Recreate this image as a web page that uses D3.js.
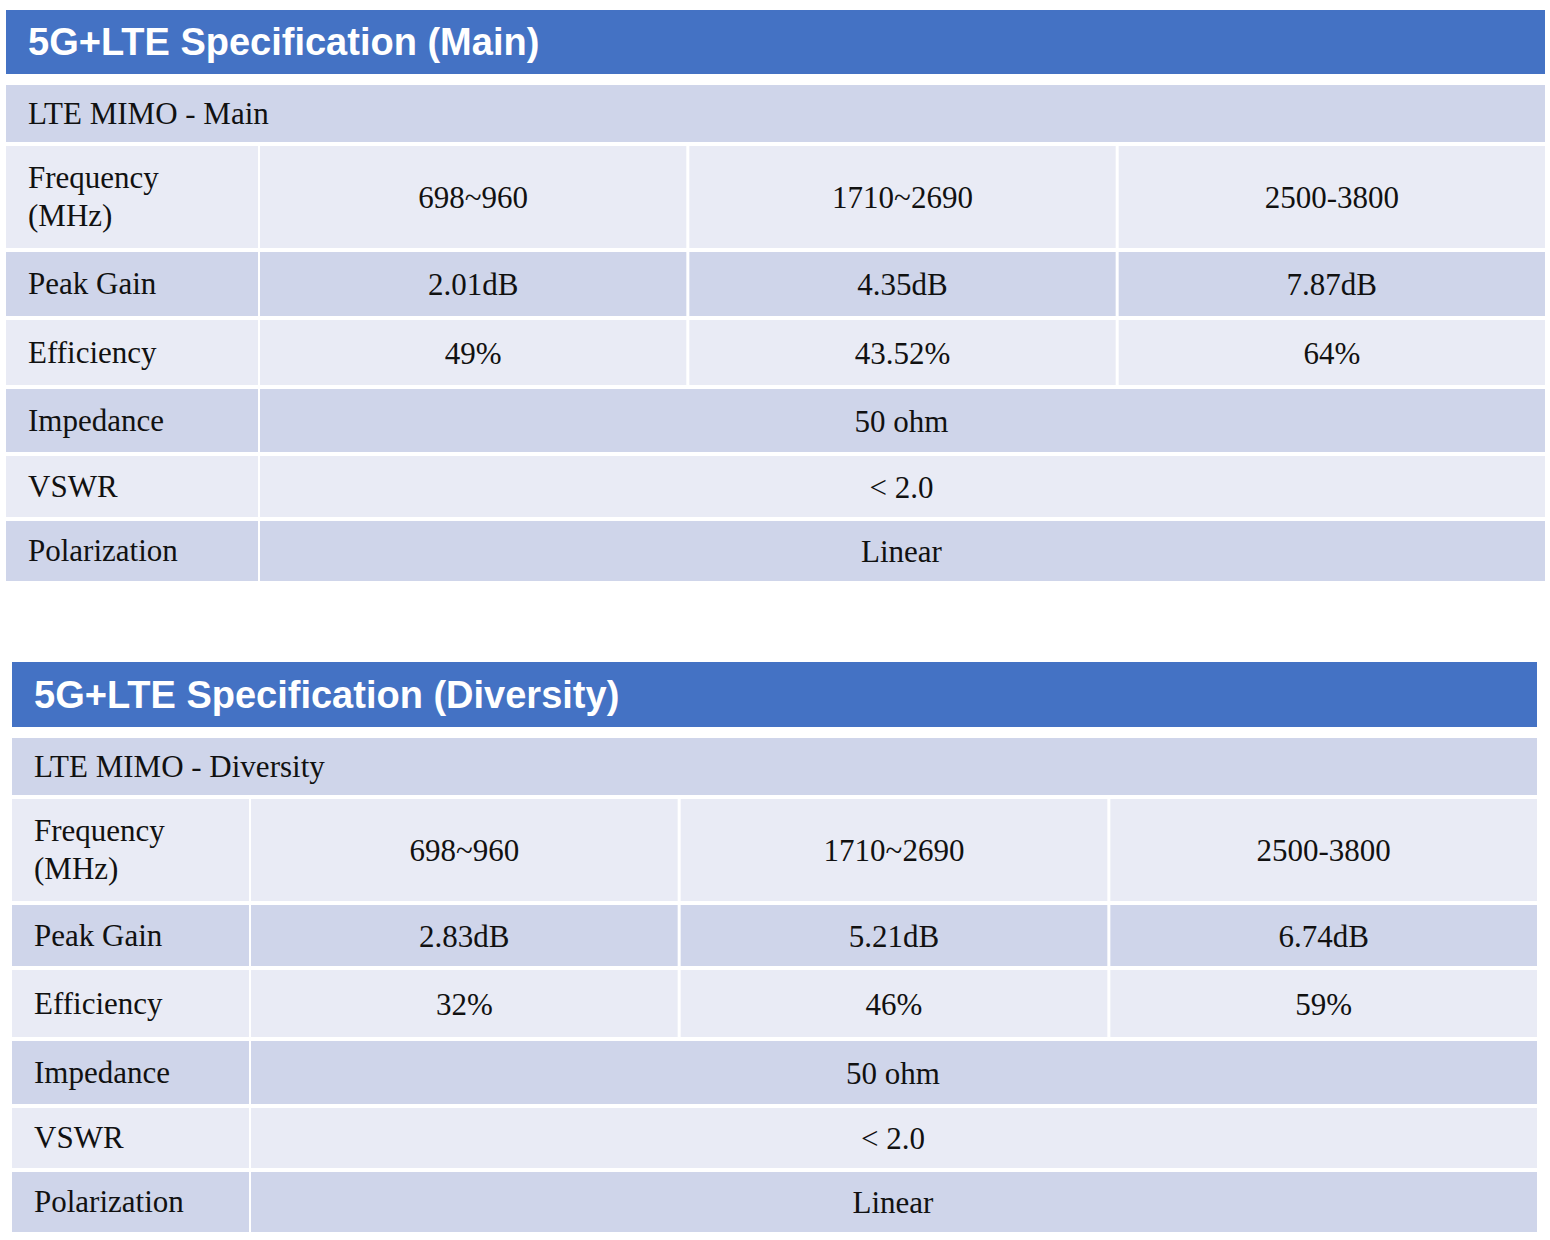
<!DOCTYPE html>
<html><head><meta charset="utf-8">
<script src="https://cdn.jsdelivr.net/npm/d3@7"></script>
<style>body{margin:0;background:#fff}</style>
</head><body>
<svg id="chart" width="1550" height="1240"></svg>
<script>
// data
var titles = ["5G+LTE Specification (Main)", "5G+LTE Specification (Diversity)"];
var subtitles = ["LTE MIMO - Main", "LTE MIMO - Diversity"];
var rowLabels = ["Frequency\n(MHz)", "Peak Gain", "Efficiency", "Impedance", "VSWR", "Polarization"];
var bands = ["698~960", "1710~2690", "2500-3800"];
var peakGain = [["2.01dB", "4.35dB", "7.87dB"], ["2.83dB", "5.21dB", "6.74dB"]];
var efficiency = [["49%", "43.52%", "64%"], ["32%", "46%", "59%"]];
var impedance = "50 ohm", vswr = "< 2.0", polarization = "Linear";

// layout
var layouts = [
  {x0: 6, x1: 1545, head: [10, 74], sub: [85, 142], firstCol: 258,
   rows: [[146, 248], [252, 316], [320, 385], [389, 452], [456, 517], [521, 581]]},
  {x0: 12, x1: 1537, head: [662, 727], sub: [738, 795], firstCol: 249,
   rows: [[799, 901], [905, 966], [970, 1037], [1041, 1104], [1108, 1168], [1172, 1232]]}
];
var dark = "#CFD5EA", light = "#E9EBF5", blue = "#4472C4";
var serif = "'Liberation Serif', 'DejaVu Serif', serif";
var svg = d3.select("#chart");

layouts.forEach(function(L, t) {
  var g = svg.append("g");
  g.append("rect").attr("x", L.x0).attr("y", L.head[0]).attr("width", L.x1 - L.x0)
    .attr("height", L.head[1] - L.head[0]).attr("fill", blue);
  g.append("text").attr("x", L.x0 + 22).attr("y", (L.head[0] + L.head[1]) / 2 + 13)
    .attr("fill", "white").style("font", "bold 38px 'Liberation Sans', Arial, sans-serif")
    .text(titles[t]);
  g.append("rect").attr("x", L.x0).attr("y", L.sub[0]).attr("width", L.x1 - L.x0)
    .attr("height", L.sub[1] - L.sub[0]).attr("fill", dark);
  g.append("text").attr("x", L.x0 + 22).attr("y", (L.sub[0] + L.sub[1]) / 2 + 10)
    .style("font", "31px " + serif).attr("fill", "#111").text(subtitles[t]);

  var col = d3.scaleBand().domain(bands).range([L.firstCol + 2, L.x1]).paddingInner(0.007);
  var rowVals = [bands, peakGain[t], efficiency[t], [impedance], [vswr], [polarization]];

  rowLabels.forEach(function(lab, i) {
    var r = L.rows[i], fill = i % 2 == 0 ? light : dark, cy = (r[0] + r[1]) / 2;
    g.append("rect").attr("x", L.x0).attr("y", r[0]).attr("width", L.firstCol - L.x0)
      .attr("height", r[1] - r[0]).attr("fill", fill);
    var lines = lab.split("\n");
    g.selectAll(null).data(lines).join("text")
      .attr("x", L.x0 + 22).attr("y", (d, k) => cy + 10 + (k - (lines.length - 1) / 2) * 38)
      .style("font", "31px " + serif).attr("fill", "#111").text(d => d);
    var vals = rowVals[i];
    if (vals.length == 3) {
      vals.forEach(function(v, k) {
        var x = col(bands[k]);
        g.append("rect").attr("x", x).attr("y", r[0]).attr("width", col.bandwidth())
          .attr("height", r[1] - r[0]).attr("fill", fill);
        g.append("text").attr("x", x + col.bandwidth() / 2).attr("y", cy + 11)
          .attr("text-anchor", "middle").style("font", "31px " + serif).attr("fill", "#111").text(v);
      });
    } else {
      g.append("rect").attr("x", L.firstCol + 2).attr("y", r[0]).attr("width", L.x1 - L.firstCol - 2)
        .attr("height", r[1] - r[0]).attr("fill", fill);
      g.append("text").attr("x", (L.firstCol + L.x1) / 2).attr("y", cy + 11)
        .attr("text-anchor", "middle").style("font", "31px " + serif).attr("fill", "#111").text(vals[0]);
    }
  });
});
</script>
</body></html>
